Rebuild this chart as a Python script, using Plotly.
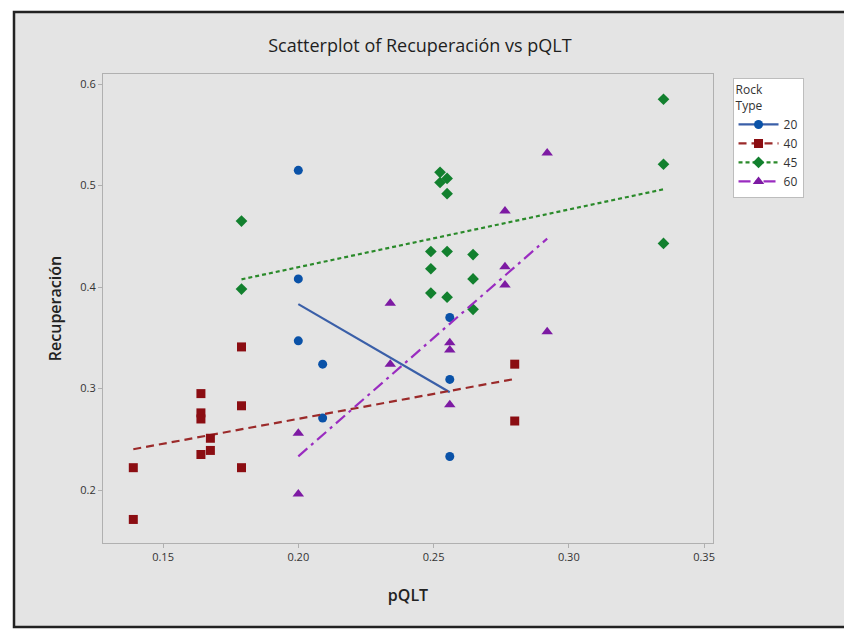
import numpy as np
import plotly.graph_objects as go

# ---- data ----
x20 = [0.200, 0.200, 0.200, 0.209, 0.209, 0.256, 0.256, 0.256]
y20 = [0.515, 0.408, 0.347, 0.324, 0.271, 0.370, 0.309, 0.233]

x40 = [0.139, 0.139, 0.164, 0.164, 0.164, 0.164, 0.1675, 0.1675, 0.179, 0.179, 0.179, 0.280, 0.280]
y40 = [0.222, 0.171, 0.295, 0.276, 0.270, 0.235, 0.251, 0.239, 0.341, 0.283, 0.222, 0.324, 0.268]

x45 = [0.179, 0.179, 0.335, 0.335, 0.335, 0.2524, 0.255, 0.2524, 0.255,
       0.249, 0.255, 0.2646, 0.249, 0.2646, 0.249, 0.255, 0.2646]
y45 = [0.465, 0.398, 0.585, 0.521, 0.443, 0.513, 0.507, 0.503, 0.492,
       0.435, 0.435, 0.432, 0.418, 0.408, 0.394, 0.390, 0.378]

x60 = [0.234, 0.234, 0.292, 0.292, 0.2764, 0.2764, 0.2764, 0.256, 0.256, 0.256, 0.200, 0.200]
y60 = [0.384, 0.324, 0.532, 0.356, 0.475, 0.420, 0.402, 0.345, 0.338, 0.284, 0.256, 0.196]

groups = ["20", "40", "45", "60"]
xs = [x20, x40, x45, x60]
ys = [y20, y40, y45, y60]

x_ticks = [0.15, 0.20, 0.25, 0.30, 0.35]
x_ticktext = ["0.15", "0.20", "0.25", "0.30", "0.35"]
y_ticks = [0.2, 0.3, 0.4, 0.5, 0.6]
y_ticktext = ["0.2", "0.3", "0.4", "0.5", "0.6"]

# ---- styles ----
marker_colors = ["#0a52a8", "#8b0d12", "#12802e", "#7d1aa3"]
line_colors = ["#3a5fa8", "#9b2a2a", "#2a8a2a", "#9a2cc0"]
symbols = ["circle", "square", "diamond", "triangle-up"]
msizes = [9, 9, 9, 10]
dashes = ["solid", "8px,5px", "4px,3px", "12px,5px,3px,5px"]

fig = go.Figure()
for g, x, y, mc, lc, sym, ms, dash in zip(groups, xs, ys, marker_colors, line_colors, symbols, msizes, dashes):
    xa = np.array(x)
    ya = np.array(y)
    b, a = np.polyfit(xa, ya, 1)
    xl = np.array([xa.min(), xa.max()])
    yl = a + b * xl
    # fitted regression line
    fig.add_trace(go.Scatter(
        x=xl, y=yl, mode="lines", line=dict(color=lc, width=2.2, dash=dash),
        legendgroup=g, showlegend=False, hoverinfo="skip"))
    # data points
    fig.add_trace(go.Scatter(
        x=x, y=y, mode="markers", name=g, legendgroup=g, showlegend=False,
        marker=dict(symbol=sym, size=ms, color=mc)))
    # legend entry showing line + marker
    fig.add_trace(go.Scatter(
        x=[None], y=[None], mode="lines+markers", name=g, legendgroup=g,
        marker=dict(symbol=sym, size=ms, color=mc),
        line=dict(color=lc, width=2.2, dash=dash)))

fig.update_layout(
    width=844, height=630,
    margin=dict(l=103, r=131, t=74, b=87),
    paper_bgcolor="white",
    plot_bgcolor="white",
    font=dict(family="Open Sans, Noto Sans, sans-serif", color="#333333"),
    title=dict(text="Scatterplot of Recuperación vs pQLT", x=0.4975, xanchor="center",
               y=0.927, yanchor="middle",
               font=dict(size=18, color="#1e1e1e")),
    legend=dict(
        title=dict(text="Rock<br>Type", font=dict(size=12, color="#333")),
        x=1.032, xanchor="left", y=0.992, yanchor="top",
        bgcolor="white", bordercolor="#bdbdbd", borderwidth=1,
        font=dict(size=12, color="#333"), tracegroupgap=0, itemwidth=40,
    ),
    shapes=[
        dict(type="rect", xref="paper", yref="paper",
             x0=(14 - 103) / 610, x1=(850 - 103) / 610,
             y0=(543 - 627) / 469, y1=(543 - 12) / 469,
             fillcolor="#e4e4e4", line=dict(color="#222222", width=2.5),
             layer="below"),
    ],
)

fig.update_xaxes(
    range=[0.1278, 0.3533], tickvals=x_ticks, ticktext=x_ticktext,
    showgrid=False, zeroline=False, showline=True, linecolor="#b0b0b0", mirror=True,
    ticks="outside", ticklen=4, tickcolor="#b0b0b0",
    tickfont=dict(size=11, color="#333"),
    title=dict(text="pQLT", font=dict(size=16, color="#222222", weight=600), standoff=26),
)
fig.update_yaxes(
    range=[0.1478, 0.6099], tickvals=y_ticks, ticktext=y_ticktext,
    showgrid=False, zeroline=False, showline=True, linecolor="#b0b0b0", mirror=True,
    ticks="outside", ticklen=4, tickcolor="#b0b0b0",
    tickfont=dict(size=11, color="#333"),
    title=dict(text="Recuperación", font=dict(size=16, color="#222222", weight=600), standoff=14),
)

fig.write_html("out.html")
